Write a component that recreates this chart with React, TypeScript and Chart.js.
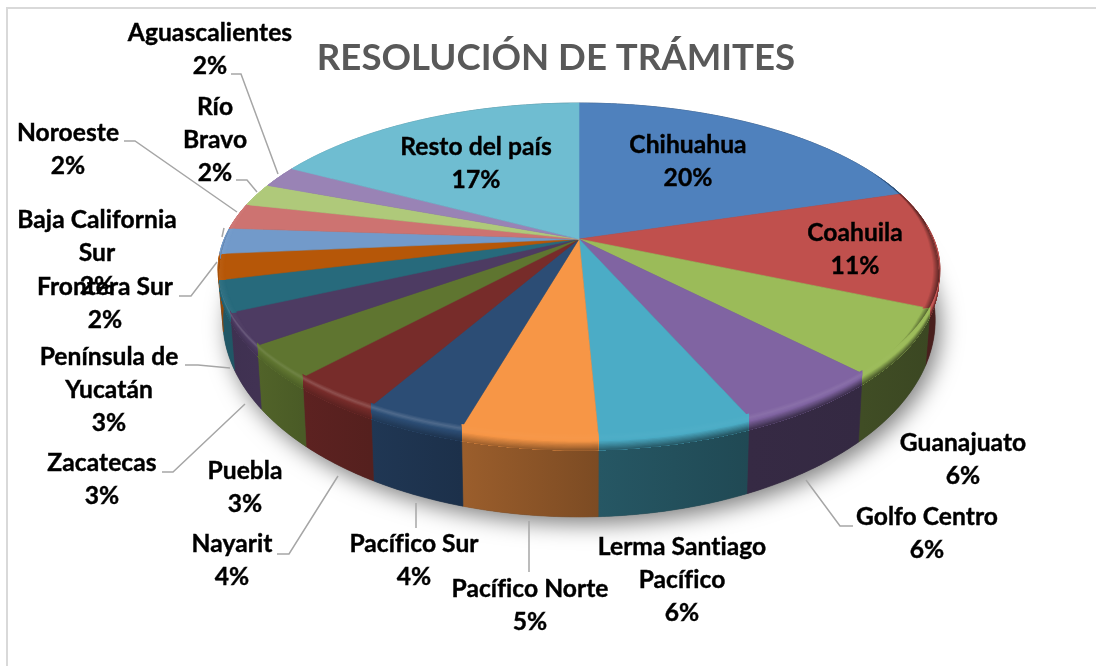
import React, { useEffect, useRef } from "react";
import { Chart, registerables } from "chart.js";

Chart.register(...registerables);

const categories = [
  "Chihuahua", "Coahuila", "Guanajuato", "Golfo Centro", "Lerma Santiago Pacífico", "Pacífico Norte",
  "Pacífico Sur", "Nayarit", "Puebla", "Zacatecas", "Península de Yucatán", "Frontera Sur",
  "Baja California Sur", "Noroeste", "Río Bravo", "Aguascalientes", "Resto del país",
];
const shares = [20.25, 11.3, 6.3, 5.64, 5.8, 5.1, 3.8, 3.55, 3.25, 3.1, 3, 2.49, 2.49, 2.49, 2.2, 2.1, 17.14];
const colors = [
  "#4F81BD", "#C0504D", "#9BBB59", "#8064A2", "#4BACC6", "#F79646", "#2C4D75", "#772C2A", "#5F7530",
  "#4D3B62", "#276A7C", "#B65708", "#729ACA", "#CD7371", "#AFC97A", "#9983B5", "#6FBDD1",
];
const titleText = "RESOLUCIÓN DE TRÁMITES";

// Layout of the data labels: centre x, first line centre y, wrapped lines.
const labelLayout: [number, number, string[]][] = [
  [688, 145, ["Chihuahua"]],
  [855, 233, ["Coahuila"]],
  [963, 443, ["Guanajuato"]],
  [927, 517, ["Golfo Centro"]],
  [682, 547, ["Lerma Santiago", "Pacífico"]],
  [530, 589, ["Pacífico Norte"]],
  [414, 544, ["Pacífico Sur"]],
  [232, 544, ["Nayarit"]],
  [245, 471, ["Puebla"]],
  [102, 463, ["Zacatecas"]],
  [109, 357, ["Península de", "Yucatán"]],
  [105, 287, ["Frontera Sur"]],
  [97, 220, ["Baja California", "Sur"]],
  [68, 133, ["Noroeste"]],
  [215, 107, ["Río", "Bravo"]],
  [210, 33, ["Aguascalientes"]],
  [476, 147, ["Resto del país"]],
];

const leaderLines: [number, number][][] = [
  [[231, 74], [241, 74], [278, 174]],
  [[236, 180], [247, 180], [257, 192]],
  [[124, 141], [135, 141], [237, 212]],
  [[224, 228], [222, 237]],
  [[179, 296], [191, 296], [217, 262]],
  [[185, 365], [198, 365], [230, 368]],
  [[162, 472], [173, 472], [245, 404]],
  [[277, 554], [289, 554], [338, 476]],
  [[416, 503], [416, 528]],
  [[529, 521], [529, 572]],
  [[806, 480], [840, 526], [853, 526]],
];

const shadeStops: [number, number][] = [
  [0, 0.5], [72, 0.38], [112, 0.38], [136, 0.41], [156, 0.42], [177, 0.5],
  [196, 0.63], [210, 0.72], [222, 0.78], [234, 0.85], [246, 0.82], [360, 0.82],
];

const persp = 0.1856;
const topRim = { x0: 579, y0: 239, a: 354.7, b: 161.2 };
const lowRim = { x0: 579, y0: 283.4, a: 350, b: 190.2 };

type Rim = typeof topRim;
const project = (r: Rim, u: number, v: number): [number, number] => {
  const d = 1 - persp * v;
  return [r.x0 + (r.a * u) / d, r.y0 + (r.b * v) / d];
};
const rgb = (hex: string) => [1, 3, 5].map((i) => parseInt(hex.slice(i, i + 2), 16));
const mix = (c: number[], f: number) => {
  const ch = c.map((x) => (f <= 1 ? x * f : x + (255 - x) * (f - 1)));
  return `rgb(${ch.map((x) => Math.round(x)).join(",")})`;
};
const shadeAt = (deg: number) => {
  const d = ((deg % 360) + 360) % 360;
  for (let i = 1; i < shadeStops.length; i++) {
    const [a, sa] = shadeStops[i - 1];
    const [b, sb] = shadeStops[i];
    if (d <= b) return sa + ((sb - sa) * (d - a)) / (b - a);
  }
  return 0.82;
};
const sampleAngles = (s: number, e: number) => {
  const n = Math.max(4, Math.ceil((e - s) / 0.01));
  return Array.from({ length: n + 1 }, (_, i) => s + ((e - s) * i) / n);
};
const toDeg = (a: number) => ((a + Math.PI / 2) * 180) / Math.PI;
const clamp01 = (x: number) => Math.min(1, Math.max(0, x));

// a point on the wall between the two rims; f < 0 reaches slightly into the top face
const wallPoint = (a: number, f: number): [number, number] => {
  const u = Math.cos(a);
  const v = Math.sin(a);
  const k = f * clamp01((v + 0.1) / 0.3);
  const t = project(topRim, u, v);
  const l = project(lowRim, u, v);
  return [t[0] + (l[0] - t[0]) * k, t[1] + (l[1] - t[1]) * k];
};
// a point of the top face pulled in from its right / left edge
const sidePoint = (a: number, t: number, width: number): [number, number] => {
  const u = Math.cos(a);
  const v = Math.sin(a);
  const w = clamp01((v + 0.45) / 0.5) * clamp01((0.75 - v) / 0.3);
  return project(topRim, u * (1 - width * t * w), v);
};

const pie3d = {
  id: "pie3d",
  beforeDatasetsDraw(chart: any) {
    const ctx: CanvasRenderingContext2D = chart.ctx;
    const arcs = chart.getDatasetMeta(0).data as any[];
    ctx.save();

    const band = (as: number[], p: (a: number) => [number, number], q: (a: number) => [number, number]) => {
      ctx.beginPath();
      as.forEach((a, j) => {
        const [x, y] = p(a);
        if (j) ctx.lineTo(x, y);
        else ctx.moveTo(x, y);
      });
      [...as].reverse().forEach((a) => {
        const [x, y] = q(a);
        ctx.lineTo(x, y);
      });
      ctx.closePath();
    };

    // soft shadow under the body
    ctx.save();
    ctx.shadowColor = "rgba(0,0,0,0.5)";
    ctx.shadowBlur = 22;
    ctx.shadowOffsetX = 5;
    ctx.shadowOffsetY = 7;
    ctx.fillStyle = "#444";
    ctx.beginPath();
    sampleAngles(0, Math.PI * 2).forEach((a, i) => {
      const [x, y] = project(lowRim, Math.cos(a), Math.sin(a));
      if (i) ctx.lineTo(x, y);
      else ctx.moveTo(x, y);
    });
    ctx.closePath();
    ctx.fill();
    ctx.restore();

    const grad = (el: any, fn: (shade: number) => string) => {
      const x1 = project(topRim, Math.cos(el.startAngle), Math.sin(el.startAngle))[0];
      const x2 = project(topRim, Math.cos(el.endAngle), Math.sin(el.endAngle))[0];
      const g = ctx.createLinearGradient(x1, 0, Math.abs(x2 - x1) < 1 ? x1 + 1 : x2, 0);
      g.addColorStop(0, fn(shadeAt(toDeg(el.startAngle))));
      g.addColorStop(1, fn(shadeAt(toDeg(el.endAngle))));
      return g;
    };

    // outer wall
    arcs.forEach((el, i) => {
      const c = rgb(colors[i]);
      const g = grad(el, (s) => mix(c, s));
      ctx.fillStyle = g;
      ctx.strokeStyle = g;
      ctx.lineWidth = 0.6;
      band(
        sampleAngles(el.startAngle, el.endAngle),
        (a) => project(topRim, Math.cos(a), Math.sin(a)),
        (a) => project(lowRim, Math.cos(a), Math.sin(a))
      );
      ctx.fill();
      ctx.stroke();
    });

    // top faces
    arcs.forEach((el, i) => {
      ctx.fillStyle = colors[i];
      ctx.strokeStyle = colors[i];
      ctx.lineWidth = 0.6;
      ctx.beginPath();
      ctx.moveTo(topRim.x0, topRim.y0);
      sampleAngles(el.startAngle, el.endAngle).forEach((a) => {
        const [x, y] = project(topRim, Math.cos(a), Math.sin(a));
        ctx.lineTo(x, y);
      });
      ctx.closePath();
      ctx.fill();
      ctx.stroke();
    });

    // darkened right edge and lightened left edge of the top face
    const sideSteps = 8;
    arcs.forEach((el, i) => {
      const c = rgb(colors[i]);
      const as = sampleAngles(el.startAngle, el.endAngle);
      const mid = (el.startAngle + el.endAngle) / 2;
      const right = Math.cos(mid) > 0;
      for (let s = 0; s < sideSteps; s++) {
        const t = 1 - s / sideSteps;
        ctx.fillStyle = right ? mix(c, 0.4 + 0.6 * t) : mix(c, 1 + 0.06 * (1 - t));
        const w = right ? 0.022 : 0.02;
        band(as, (a) => sidePoint(a, t, w), (a) => sidePoint(a, 0, w));
        ctx.fill();
      }
    });

    // rounded bevel at the top of the front wall, painted from the inner band outwards
    const steps = 14;
    const fStart = -0.05;
    const fEnd = 0.17;
    arcs.forEach((el, i) => {
      const c = rgb(colors[i]);
      const lum = (c[0] * 0.3 + c[1] * 0.59 + c[2] * 0.11) / 255;
      const hi = 0.02 + 0.16 * clamp01((0.55 - lum) / 0.3);
      const as = sampleAngles(el.startAngle, el.endAngle);
      for (let s = 0; s < steps; s++) {
        const f = fStart + ((fEnd - fStart) * s) / steps;
        ctx.fillStyle = grad(el, (sh) => {
          if (f < 0) return mix(c, 1 + hi * (1 + f / -fStart));
          const q = f / fEnd;
          return q < 0.25 ? mix(c, 1 + hi - hi * (q / 0.25)) : mix(c, 1 - (1 - sh) * ((q - 0.25) / 0.75));
        });
        band(as, (a) => wallPoint(a, f), (a) => wallPoint(a, fEnd));
        ctx.fill();
      }
    });
    ctx.restore();
    return false;
  },
  afterDraw(chart: any) {
    const ctx: any = chart.ctx;
    const total = shares.reduce((a, b) => a + b, 0);
    ctx.save();
    // frame
    ctx.strokeStyle = "#D9D9D9";
    ctx.lineWidth = 2;
    ctx.beginPath();
    ctx.moveTo(7, 666);
    ctx.lineTo(7, 8);
    ctx.lineTo(1096, 8);
    ctx.stroke();
    // leaders
    ctx.strokeStyle = "#A6A6A6";
    ctx.lineWidth = 1.5;
    leaderLines.forEach((pts) => {
      ctx.beginPath();
      pts.forEach(([x, y], i) => (i ? ctx.lineTo(x, y) : ctx.moveTo(x, y)));
      ctx.stroke();
    });
    // labels
    ctx.fillStyle = "#000";
    ctx.strokeStyle = "#000";
    ctx.lineWidth = 0.4;
    ctx.font = 'bold 24.6px Lato, "Open Sans", sans-serif';
    ctx.letterSpacing = "0.05px";
    ctx.textAlign = "center";
    ctx.textBaseline = "middle";
    labelLayout.forEach(([x, y, lines], i) => {
      const pct = `${Math.round((shares[i] / total) * 100)}%`;
      [...lines, pct].forEach((t, j) => {
        ctx.fillText(t, x, y + j * 33);
        ctx.strokeText(t, x, y + j * 33);
      });
    });
    ctx.restore();
  },
};

export default function App() {
  const ref = useRef<HTMLCanvasElement>(null);
  useEffect(() => {
    document.body.style.margin = "0";
    document.body.style.background = "#fff";
    const chart = new Chart(ref.current as HTMLCanvasElement, {
      type: "pie",
      data: {
        labels: categories,
        datasets: [{ data: shares, backgroundColor: colors, borderWidth: 0 }],
      },
      options: {
        responsive: false,
        animation: false,
        layout: { padding: { left: 16 } },
        plugins: {
          legend: { display: false },
          tooltip: { enabled: false },
          title: {
            display: true,
            text: titleText,
            color: "#595959",
            fullSize: false,
            font: { family: "Lato, 'Open Sans', sans-serif", size: 36.6, weight: "bold" },
            padding: { top: 36, bottom: 0 },
          },
        },
      },
      plugins: [pie3d],
    } as any);
    return () => chart.destroy();
  }, []);
  return <canvas ref={ref} width={1096} height={666} style={{ display: "block" }} />;
}
